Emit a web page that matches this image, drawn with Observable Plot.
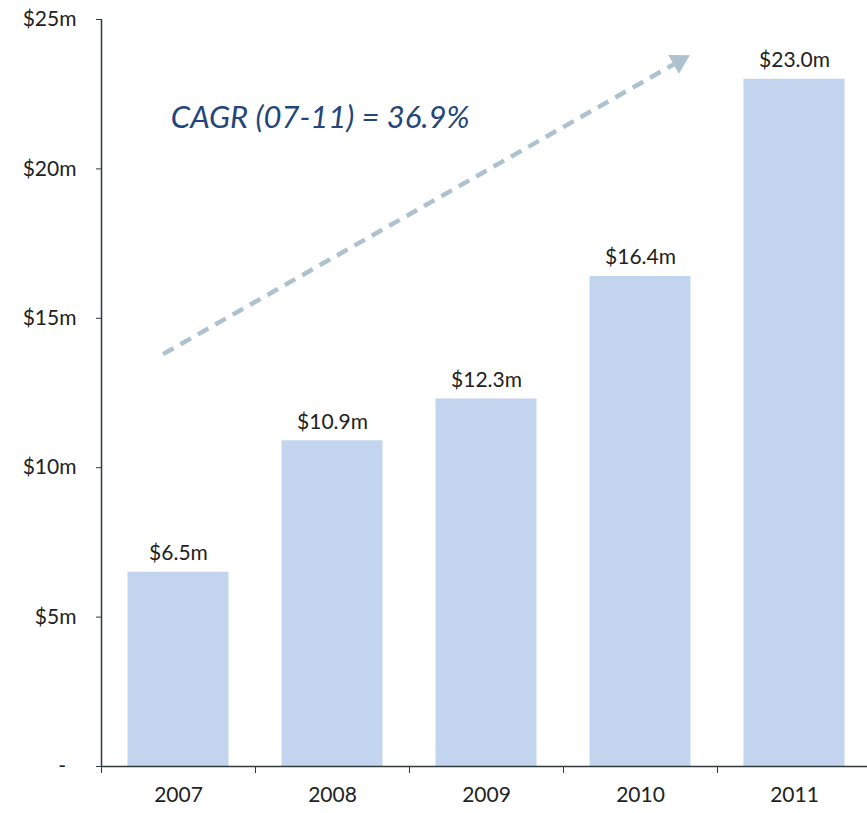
<!DOCTYPE html>
<html><head><meta charset="utf-8">
<script src="https://cdn.jsdelivr.net/npm/d3@7"></script>
<script src="https://cdn.jsdelivr.net/npm/@observablehq/plot@0.6"></script>
<style>body{margin:0;background:#fff}</style>
</head><body><div id="chart"></div>
<script>
const years = [2007, 2008, 2009, 2010, 2011];
const revenue = [6.5, 10.9, 12.3, 16.4, 23.0];
const valueLabels = ["$6.5m", "$10.9m", "$12.3m", "$16.4m", "$23.0m"];
const yTicks = [0, 5, 10, 15, 20, 25];
const yTickLabels = ["-", "$5m", "$10m", "$15m", "$20m", "$25m"];
const cagrLabel = "CAGR (07-11) = 36.9%";
// annotation anchors (in data units: year, $m)
const arrowFrom = {year: 2006.9, value: 13.8};
const arrowTo = {year: 2010.25, value: 23.6};
const cagrAt = {year: 2006.95, value: 21.7};

const data = years.map((y, i) => ({year: y, value: revenue[i], label: valueLabels[i]}));
const half = 0.328;
const boundaries = [years[0] - 0.5, ...years.map(y => y + 0.5)];

const chart = Plot.plot({
  width: 867, height: 813,
  marginLeft: 101, marginRight: 0, marginTop: 19, marginBottom: 47,
  style: {fontFamily: "Lato, sans-serif", fontSize: "21px", color: "#222", background: "#fff", overflow: "visible"},
  x: {domain: [2006.5, 2011.5], range: [101, 871]},
  y: {domain: [0, 25], range: [766, 19]},
  marks: [
    Plot.rectY(data, {x1: d => d.year - half, x2: d => d.year + half, y: "value", fill: "#c2d4ee"}),
    Plot.text(data, {x: "year", y: "value", text: "label", dy: -12, lineAnchor: "bottom", fill: "#222", fontSize: 21}),
    Plot.ruleY([0], {stroke: "#2f3b3b", strokeWidth: 1.5}),
    Plot.ruleX([boundaries[0]], {y1: 0, y2: 25, stroke: "#2f3b3b", strokeWidth: 1.5}),
    Plot.axisY({ticks: yTicks, tickFormat: d => yTickLabels[yTicks.indexOf(d)] + (d === 0 ? "\u2002" : ""), tickSize: 5, tickPadding: 20, stroke: "#2f3b3b", fill: "#222", label: null, fontSize: 21}),
    Plot.axisX({ticks: boundaries, tickFormat: () => "", tickSize: 7, stroke: "#2f3b3b", label: null}),
    Plot.axisX({ticks: years, tickFormat: "d", tickSize: 0, tickPadding: 21, fill: "#222", label: null, fontSize: 21}),
    Plot.link([0], {x1: () => arrowFrom.year, y1: () => arrowFrom.value, x2: () => arrowTo.year, y2: () => arrowTo.value,
      stroke: "#adc2ce", strokeWidth: 4.5, strokeDasharray: "12,8"}),
    Plot.dot([0], {x: () => arrowTo.year, y: () => arrowTo.value, symbol: "triangle", r: 8, rotate: 60.5, fill: "#adc2ce", stroke: "none"}),
    Plot.text([cagrLabel], {x: () => cagrAt.year, y: () => cagrAt.value, text: d => d, textAnchor: "start", fontStyle: "italic", fontSize: 31, fill: "#24467a"})
  ]
});
document.getElementById("chart").append(chart);
</script>
</body></html>
